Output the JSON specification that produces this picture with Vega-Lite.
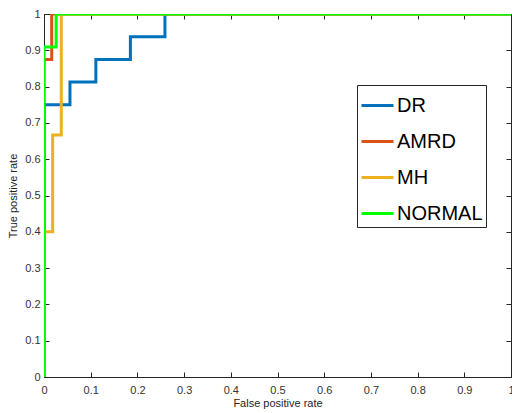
{
  "$schema": "https://vega.github.io/schema/vega-lite/v6.json",
  "width": 467,
  "height": 363,
  "autosize": "none",
  "padding": {"left": 44, "top": 14, "right": 1, "bottom": 36},
  "background": "white",
  "config": {
    "view": {"stroke": "#262626", "strokeWidth": 1},
    "font": "Liberation Sans",
    "axis": {"grid": false, "domainColor": "#262626", "tickColor": "#262626", "labelColor": "#333333", "titleColor": "#262626", "labelFontSize": 11, "titleFontSize": 11, "titleFontWeight": "normal", "labelFont": "Liberation Sans", "titleFont": "Liberation Sans"}
  },
  "data": {"values": [
    {"s": "DR", "o": 0, "x": 0, "y": 0},
    {"s": "DR", "o": 1, "x": 0, "y": 0.75},
    {"s": "DR", "o": 2, "x": 0.0556, "y": 0.75},
    {"s": "DR", "o": 3, "x": 0.0556, "y": 0.8125},
    {"s": "DR", "o": 4, "x": 0.111, "y": 0.8125},
    {"s": "DR", "o": 5, "x": 0.111, "y": 0.875},
    {"s": "DR", "o": 6, "x": 0.185, "y": 0.875},
    {"s": "DR", "o": 7, "x": 0.185, "y": 0.9375},
    {"s": "DR", "o": 8, "x": 0.259, "y": 0.9375},
    {"s": "DR", "o": 9, "x": 0.259, "y": 1},
    {"s": "DR", "o": 10, "x": 1, "y": 1},
    {"s": "AMRD", "o": 0, "x": 0, "y": 0},
    {"s": "AMRD", "o": 1, "x": 0, "y": 0.875},
    {"s": "AMRD", "o": 2, "x": 0.0165, "y": 0.875},
    {"s": "AMRD", "o": 3, "x": 0.0165, "y": 1},
    {"s": "AMRD", "o": 4, "x": 1, "y": 1},
    {"s": "MH", "o": 0, "x": 0, "y": 0},
    {"s": "MH", "o": 1, "x": 0, "y": 0.4},
    {"s": "MH", "o": 2, "x": 0.0185, "y": 0.4},
    {"s": "MH", "o": 3, "x": 0.0185, "y": 0.667},
    {"s": "MH", "o": 4, "x": 0.037, "y": 0.667},
    {"s": "MH", "o": 5, "x": 0.037, "y": 1},
    {"s": "MH", "o": 6, "x": 1, "y": 1},
    {"s": "NORMAL", "o": 0, "x": 0, "y": 0},
    {"s": "NORMAL", "o": 1, "x": 0, "y": 0.909},
    {"s": "NORMAL", "o": 2, "x": 0.026, "y": 0.909},
    {"s": "NORMAL", "o": 3, "x": 0.026, "y": 1},
    {"s": "NORMAL", "o": 4, "x": 1, "y": 1}
  ]},
  "layer": [
    {
      "mark": {"type": "line", "strokeWidth": 3, "clip": true, "interpolate": "linear"},
      "encoding": {
        "x": {"field": "x", "type": "quantitative", "scale": {"domain": [0, 1], "nice": false, "zero": false},
          "axis": {"orient": "bottom", "title": "False positive rate", "values": [0,0.1,0.2,0.3,0.4,0.5,0.6,0.7,0.8,0.9,1], "tickSize": -5, "labelPadding": 12, "titlePadding": 2, "labelFlush": false, "format": "~g"}},
        "y": {"field": "y", "type": "quantitative", "scale": {"domain": [0, 1], "nice": false, "zero": false},
          "axis": {"orient": "left", "title": "True positive rate", "values": [0,0.1,0.2,0.3,0.4,0.5,0.6,0.7,0.8,0.9,1], "tickSize": -5, "labelPadding": 9, "titlePadding": 6, "labelFlush": false, "format": "~g"}},
        "color": {"field": "s", "type": "nominal", "sort": ["DR", "AMRD", "MH", "NORMAL"],
          "scale": {"domain": ["DR", "AMRD", "MH", "NORMAL"], "range": ["#0072BD", "#D95319", "#EDB120", "#00FF00"]},
          "legend": {"title": null, "orient": "none", "legendX": 313, "legendY": 71, "symbolType": "stroke", "symbolSize": 1024, "symbolStrokeWidth": 3, "labelFontSize": 20, "labelFont": "Liberation Sans", "labelColor": "#000000", "rowPadding": 8, "padding": 3, "strokeColor": "#262626", "fillColor": "white", "labelOffset": 2}},
        "order": {"field": "o", "type": "quantitative"}
      }
    },
    {
      "mark": {"type": "rule", "opacity": 0},
      "encoding": {
        "x": {"field": "x", "type": "quantitative", "axis": {"orient": "top", "title": null, "labels": false, "domain": false, "values": [0,0.1,0.2,0.3,0.4,0.5,0.6,0.7,0.8,0.9,1], "tickSize": -5}},
        "y": {"field": "y", "type": "quantitative", "axis": {"orient": "right", "title": null, "labels": false, "domain": false, "values": [0,0.1,0.2,0.3,0.4,0.5,0.6,0.7,0.8,0.9,1], "tickSize": -5}}
      }
    }
  ],
  "resolve": {"axis": {"x": "independent", "y": "independent"}}
}
